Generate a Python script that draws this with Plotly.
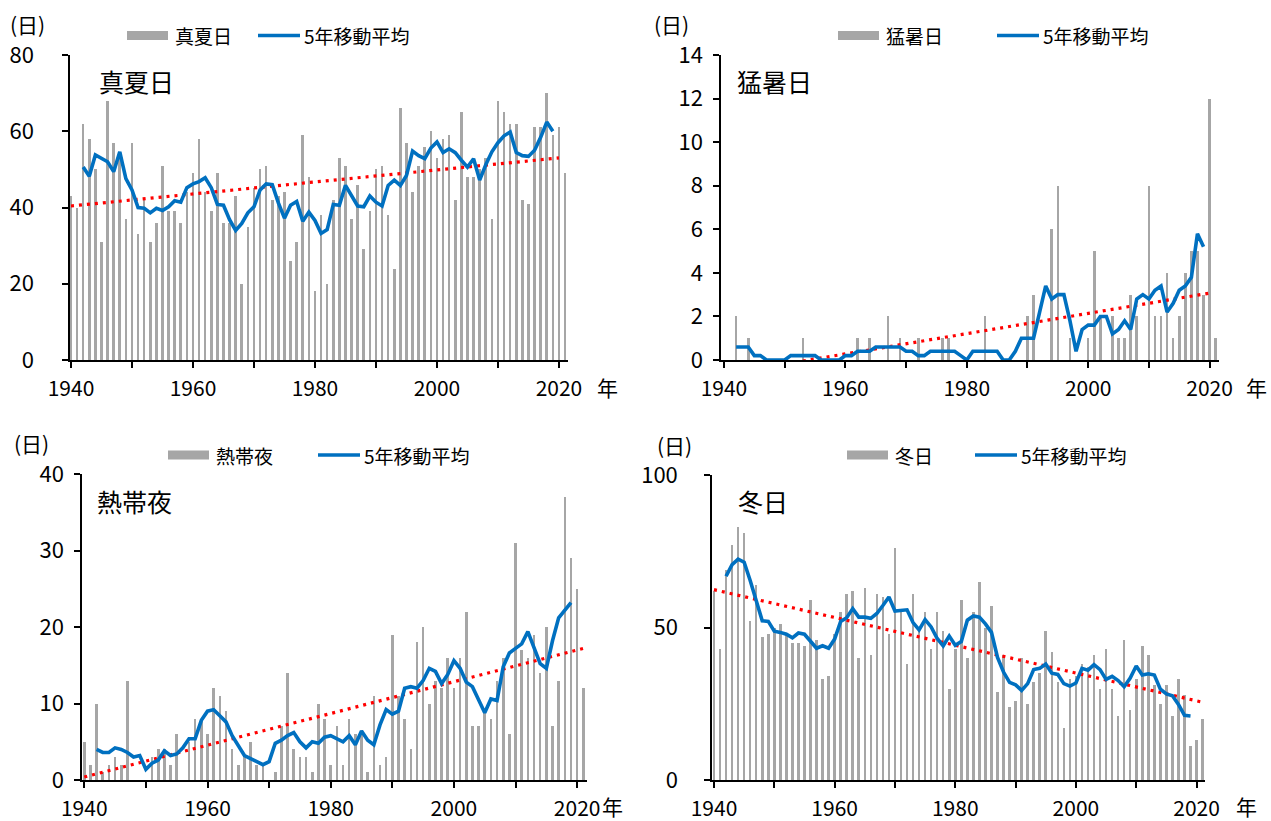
import plotly.graph_objects as go

# ---------------- data ----------------
years = list(range(1940, 2022))
ma_years = list(range(1942, 2020))
tick_years = list(range(1940, 2030, 10))
tick_text = ["1940", "", "1960", "", "1980", "", "2000", "", "2020"]

manatsubi = [43, 40, 62, 58, 50, 31, 68, 57, 54, 37,
             57, 33, 42, 31, 36, 51, 39, 39, 36, 44,
             49, 58, 44, 39, 49, 36, 36, 43, 20, 35,
             45, 50, 51, 42, 43, 44, 26, 31, 59, 48,
             18, 38, 20, 42, 53, 51, 37, 46, 29, 39,
             50, 51, 38, 24, 66, 57, 44, 51, 56, 60,
             53, 58, 59, 42, 65, 48, 48, 50, 53, 37,
             68, 65, 62, 62, 42, 41, 61, 61, 70, 59,
             61, 49]
manatsubi_ma = [50.6, 48.2, 53.8, 52.8, 52.0, 49.4, 54.6, 47.6,
                44.6, 40.0, 39.8, 38.6, 39.8, 39.2, 40.2, 41.8, 41.4, 45.2,
                46.2, 46.8, 47.8, 45.2, 40.8, 40.6, 36.8, 34.0, 35.8, 38.6,
                40.2, 44.6, 46.2, 46.0, 41.2, 37.2, 40.6, 41.6, 36.4, 38.8,
                36.6, 33.2, 34.2, 40.8, 40.6, 45.8, 43.2, 40.4, 40.2, 43.0,
                41.4, 40.4, 45.8, 47.2, 45.8, 48.4, 54.8, 53.6, 52.8, 55.6,
                57.2, 54.4, 55.4, 54.4, 52.4, 50.6, 52.8, 47.2, 51.2, 54.6,
                57.0, 58.8, 59.8, 54.4, 53.6, 53.4, 55.0, 58.4, 62.4, 60.0]
manatsubi_trend_x = [1940, 2020]
manatsubi_trend_y = [40.4, 53.0]

moushobi = [0, 0, 2, 0, 1, 0, 0, 0, 0, 0,
            0, 0, 0, 1, 0, 0, 0, 0, 0, 0,
            0, 0, 1, 0, 1, 0, 0, 2, 0, 1,
            0, 0, 1, 0, 0, 0, 1, 1, 0, 0,
            0, 0, 0, 2, 0, 0, 0, 0, 0, 0,
            2, 3, 0, 0, 6, 8, 0, 1, 0, 0,
            1, 5, 2, 0, 2, 1, 1, 3, 2, 0,
            8, 2, 2, 4, 1, 2, 4, 5, 5, 3,
            12, 1]
moushobi_ma = [0.6, 0.6, 0.6, 0.2, 0.2, 0.0, 0.0, 0.0,
               0.0, 0.2, 0.2, 0.2, 0.2, 0.2, 0.0, 0.0, 0.0, 0.0,
               0.2, 0.2, 0.4, 0.4, 0.4, 0.6, 0.6, 0.6, 0.6, 0.6,
               0.4, 0.4, 0.2, 0.2, 0.4, 0.4, 0.4, 0.4, 0.4, 0.2,
               0.0, 0.4, 0.4, 0.4, 0.4, 0.4, 0.0, 0.0, 0.4, 1.0,
               1.0, 1.0, 2.2, 3.4, 2.8, 3.0, 3.0, 1.8, 0.4, 1.4,
               1.6, 1.6, 2.0, 2.0, 1.2, 1.4, 1.8, 1.4, 2.8, 3.0,
               2.8, 3.2, 3.4, 2.2, 2.6, 3.2, 3.4, 3.8, 5.8, 5.2]
moushobi_trend_x = [1940, 2020]
moushobi_trend_y = [-0.65, 3.07]

nettaiya = [5, 2, 10, 1, 2, 3, 2, 13, 0, 0,
            0, 3, 4, 4, 2, 6, 0, 5, 8, 8,
            6, 12, 11, 9, 4, 2, 3, 5, 2, 2,
            0, 1, 7, 14, 4, 3, 3, 1, 10, 8,
            2, 7, 2, 8, 6, 6, 1, 11, 2, 3,
            19, 11, 8, 4, 18, 20, 10, 13, 12, 16,
            12, 16, 22, 7, 7, 9, 8, 13, 16, 6,
            31, 17, 16, 19, 14, 20, 7, 13, 37, 29,
            25, 12]
nettaiya_ma = [4.0, 3.6, 3.6, 4.2, 4.0, 3.6, 3.0, 3.2,
               1.4, 2.2, 2.6, 3.8, 3.2, 3.4, 4.2, 5.4, 5.4, 7.8,
               9.0, 9.2, 8.4, 7.6, 5.8, 4.6, 3.2, 2.8, 2.4, 2.0,
               2.4, 4.8, 5.2, 5.8, 6.2, 5.0, 4.2, 5.0, 4.8, 5.6,
               5.8, 5.4, 5.0, 5.8, 4.6, 6.4, 5.2, 4.6, 7.2, 9.2,
               8.6, 9.0, 12.0, 12.2, 12.0, 13.0, 14.6, 14.2, 12.6, 13.8,
               15.6, 14.6, 12.8, 12.2, 10.6, 8.8, 10.6, 10.4, 14.8, 16.6,
               17.2, 17.8, 19.4, 17.2, 15.2, 14.6, 18.2, 21.2, 22.2, 23.2]
nettaiya_trend_x = [1940, 2021]
nettaiya_trend_y = [0.4, 17.2]

fuyubi = [62, 43, 69, 77, 83, 81, 52, 64, 47, 48,
          50, 51, 48, 45, 45, 44, 59, 46, 33, 34,
          48, 55, 61, 62, 40, 63, 41, 61, 60, 48,
          76, 55, 38, 61, 49, 55, 43, 55, 49, 30,
          43, 59, 40, 55, 65, 50, 57, 29, 41, 24,
          26, 40, 25, 32, 35, 49, 42, 32, 17, 33,
          34, 38, 37, 41, 30, 43, 30, 21, 46, 23,
          33, 44, 41, 31, 25, 31, 21, 33, 28, 11,
          13, 20]
fuyubi_ma = [66.8, 70.6, 72.4, 71.4, 65.4, 58.4, 52.2, 52.0,
             48.8, 48.4, 47.8, 46.6, 48.2, 47.8, 45.4, 43.2, 44.0, 43.2,
             46.2, 52.0, 53.2, 56.2, 53.4, 53.4, 53.0, 54.6, 57.2, 60.0,
             55.4, 55.6, 55.8, 51.6, 49.2, 52.6, 50.2, 46.4, 44.0, 47.2,
             44.2, 45.4, 52.4, 53.8, 53.4, 51.2, 48.4, 40.2, 35.4, 32.0,
             31.2, 29.4, 31.6, 36.2, 36.6, 38.0, 35.0, 34.6, 31.6, 30.8,
             31.8, 36.6, 36.0, 37.8, 36.2, 33.0, 34.0, 32.6, 30.6, 33.4,
             37.4, 34.4, 34.8, 34.4, 29.8, 28.2, 27.6, 24.8, 21.2, 21.0]
fuyubi_trend_x = [1940, 2021]
fuyubi_trend_y = [62.4, 25.5]

panels = [
    dict(name="真夏日", bars=manatsubi, ma=manatsubi_ma,
         tx=manatsubi_trend_x, ty=manatsubi_trend_y, ymax=80, dtick=20),
    dict(name="猛暑日", bars=moushobi, ma=moushobi_ma,
         tx=moushobi_trend_x, ty=moushobi_trend_y, ymax=14, dtick=2),
    dict(name="熱帯夜", bars=nettaiya, ma=nettaiya_ma,
         tx=nettaiya_trend_x, ty=nettaiya_trend_y, ymax=40, dtick=10),
    dict(name="冬日", bars=fuyubi, ma=fuyubi_ma,
         tx=fuyubi_trend_x, ty=fuyubi_trend_y, ymax=100, dtick=50),
]
ma_label = "5年移動平均"
unit_label = "(日)"

# ---------------- layout geometry (pixels) ----------------
W, H = 1271, 821
FONT = "Noto Sans CJK JP"
BAR_COLOR = "#A6A6A6"
LINE_COLOR = "#0070C0"
TREND_COLOR = "#FF0000"

boxes = [
    dict(l=70, r=568, t=55, b=360, xr=[1939.84, 2021.48], ystand=24),
    dict(l=721, r=1219, t=55, b=360, xr=[1939.51, 2021.55], ystand=6),
    dict(l=82, r=587, t=474, b=780, xr=[1939.63, 2021.6], ystand=6),
    dict(l=712, r=1205, t=475, b=780, xr=[1939.67, 2021.4], ystand=22),
]
legends = [
    dict(bx=(127, 168), bt=173, lx=(258, 300), lt=302, y=35.5),
    dict(bx=(838, 879), bt=884, lx=(997, 1039), lt=1041, y=35.5),
    dict(bx=(168, 209), bt=214, lx=(318, 360), lt=362, y=455),
    dict(bx=(847, 888), bt=893, lx=(975, 1017), lt=1019, y=455),
]
unit_pos = [(27, 24), (671, 24), (31, 443), (674, 445)]
nen_pos = [(607, 387), (1256, 387), (612, 806), (1246, 806)]
title_pos = [(97, 81), (735, 81), (95, 501), (736, 501)]


def fx(x):
    return x / W


def fy(y):
    return 1 - y / H


fig = go.Figure()
layout = dict(
    template="none",
    width=W, height=H, margin=dict(l=0, r=0, t=0, b=0, pad=0, autoexpand=False),
    paper_bgcolor="white", plot_bgcolor="white", showlegend=False,
    font=dict(family=FONT, color="black", size=20),
    bargap=0, shapes=[], annotations=[],
)

for i, (p, bx) in enumerate(zip(panels, boxes)):
    n = "" if i == 0 else str(i + 1)
    xa, ya = "x" + n, "y" + n
    fig.add_trace(go.Bar(x=years, y=p["bars"], width=0.42,
                         marker=dict(color=BAR_COLOR, line=dict(width=0)),
                         xaxis=xa, yaxis=ya, name=p["name"]))
    fig.add_trace(go.Scatter(x=p["tx"], y=p["ty"], mode="lines",
                             line=dict(color=TREND_COLOR, width=3.2, dash="3px,5px"),
                             xaxis=xa, yaxis=ya, hoverinfo="skip"))
    fig.add_trace(go.Scatter(x=ma_years, y=p["ma"], mode="lines",
                             line=dict(color=LINE_COLOR, width=3.6),
                             xaxis=xa, yaxis=ya, name=ma_label))
    layout["xaxis" + n] = dict(
        domain=[fx(bx["l"]), fx(bx["r"])], range=bx["xr"], anchor=ya,
        automargin=False,
        showline=True, linecolor="black", linewidth=1.5,
        ticks="outside", ticklen=6, tickwidth=1.5, tickcolor="black",
        tickvals=tick_years, ticktext=tick_text, showgrid=False, zeroline=False,
        tickfont=dict(size=21, family=FONT), ticklabelstandoff=3,
    )
    layout["yaxis" + n] = dict(
        domain=[fy(bx["b"]), fy(bx["t"])], range=[0, p["ymax"]], anchor=xa,
        automargin=False,
        showline=True, linecolor="black", linewidth=1.5,
        ticks="outside", ticklen=6, tickwidth=1.5, tickcolor="black",
        dtick=p["dtick"], showgrid=False, zeroline=False,
        tickfont=dict(size=22, family=FONT), ticklabelstandoff=bx["ystand"],
    )
    lg = legends[i]
    layout["shapes"].append(dict(type="rect", xref="paper", yref="paper",
                                 x0=fx(lg["bx"][0]), x1=fx(lg["bx"][1]),
                                 y0=fy(lg["y"] + 4.5), y1=fy(lg["y"] - 4.5),
                                 fillcolor=BAR_COLOR, line=dict(width=0)))
    layout["shapes"].append(dict(type="line", xref="paper", yref="paper",
                                 x0=fx(lg["lx"][0]), x1=fx(lg["lx"][1]),
                                 y0=fy(lg["y"]), y1=fy(lg["y"]),
                                 line=dict(color=LINE_COLOR, width=3.6)))
    layout["annotations"].append(dict(text=p["name"], x=fx(lg["bt"]), y=fy(lg["y"]),
                                      xref="paper", yref="paper", showarrow=False,
                                      xanchor="left", yanchor="middle",
                                      font=dict(size=19, family=FONT)))
    layout["annotations"].append(dict(text=ma_label, x=fx(lg["lt"]), y=fy(lg["y"]),
                                      xref="paper", yref="paper", showarrow=False,
                                      xanchor="left", yanchor="middle",
                                      font=dict(size=19, family=FONT)))
    ux, uy = unit_pos[i]
    layout["annotations"].append(dict(text=unit_label, x=fx(ux), y=fy(uy),
                                      xref="paper", yref="paper", showarrow=False,
                                      xanchor="center", yanchor="middle",
                                      font=dict(size=21, family=FONT)))
    nx, ny = nen_pos[i]
    layout["annotations"].append(dict(text="年", x=fx(nx), y=fy(ny),
                                      xref="paper", yref="paper", showarrow=False,
                                      xanchor="center", yanchor="middle",
                                      font=dict(size=21, family=FONT)))
    tx, ty = title_pos[i]
    layout["annotations"].append(dict(text=p["name"], x=fx(tx), y=fy(ty),
                                      xref="paper", yref="paper", showarrow=False,
                                      xanchor="left", yanchor="middle",
                                      font=dict(size=25, family=FONT)))

fig.update_layout(**layout)
fig.write_html("out.html", config={"displayModeBar": False},
               post_script="document.body.style.margin='0';")
